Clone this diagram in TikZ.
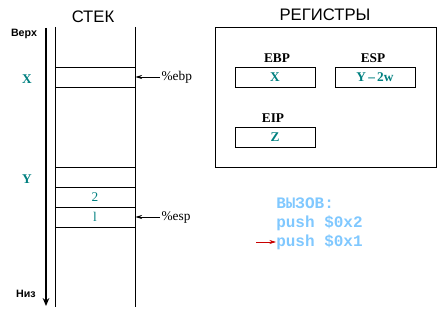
\documentclass[tikz,border=0pt]{standalone}
\usepackage{fontspec}
\setmainfont{Liberation Serif}
\setsansfont{Liberation Sans}
\setmonofont{Liberation Mono}
\usetikzlibrary{arrows.meta}
\definecolor{tealc}{RGB}{0,128,128}
\definecolor{lblue}{RGB}{128,200,255}
\definecolor{redc}{RGB}{200,0,0}
\tikzset{
  stackline/.style={line width=0.6pt},
  cell/.style={draw, line width=0.6pt, minimum width=60pt, minimum height=15pt, inner sep=0pt},
  regbox/.style={draw, line width=0.6pt, minimum width=60pt, minimum height=15pt, inner sep=0pt, text=tealc, font=\bfseries\normalsize},
  reglabel/.style={font=\bfseries\normalsize},
  sidelab/.style={text=tealc, font=\bfseries\normalsize},
  ptr/.style={-{Stealth[length=5pt,width=3pt]}, line width=0.5pt},
  code/.style={text=lblue, font=\ttfamily\bfseries\fontsize{12}{14}\selectfont, anchor=west, inner sep=0pt},
  title/.style={font=\sffamily\fontsize{12.5}{14}\selectfont},
}
\begin{document}
\begin{tikzpicture}[x=0.75pt,y=-0.75pt]
\useasboundingbox (0,0) rectangle (446,320);
% stack
\node[title] (stk) at (93,17) {СТЕК};
\coordinate (sl1) at (55,27); \coordinate (sl2) at (55,307);
\coordinate (sr1) at (135,27); \coordinate (sr2) at (135,307);
\draw[stackline] (sl1) -- (sl2);
\draw[stackline] (sr1) -- (sr2);
\node[cell] (cx) at (95,77) {};
\node[cell] (cy) at (95,177) {};
\node[cell, text=tealc, font=\normalsize] (c2) at (95,197) {2};
\node[cell, text=tealc, font=\normalsize] (c1) at (95,217) {l};
% thick arrow
\coordinate (at) at (46,28); \coordinate (ab) at (46,306);
\draw[line width=2pt, -{Stealth[length=6pt,width=5pt]}] (at) -- (ab);
\node[font=\sffamily\bfseries\footnotesize] (top) at (24,34) {Верх};
\node[font=\sffamily\bfseries\footnotesize] (bot) at (26,294) {Низ};
\node[sidelab] (lx) at (27,79) {X};
\node[sidelab] (ly) at (27,179) {Y};
% pointers
\node[font=\normalsize, anchor=west, inner sep=1pt] (ebp) at (160,77) {\%ebp};
\node[font=\normalsize, anchor=west, inner sep=1pt] (esp) at (160,217) {\%esp};
\draw[ptr] (ebp.west) -- (cx.east);
\draw[ptr] (esp.west) -- (c1.east);
% registers
\node[title] (regt) at (325,15) {РЕГИСТРЫ};
\node[draw, line width=0.6pt, minimum width=165.75pt, minimum height=105pt, inner sep=0pt] (regs) at (325.5,97) {};
\node[reglabel] (lebp) at (277,58) {EBP};
\node[regbox] (rebp) at (275,77) {X};
\node[reglabel] (lesp) at (373,58) {ESP};
\node[regbox] (resp) at (375,77) {Y\,--\,2w};
\node[reglabel] (leip) at (273,118) {EIP};
\node[regbox] (reip) at (275,137) {Z};
% call
\node[code] (call) at (276,203) {ВЫЗОВ:};
\node[code] (p2) at (276,223) {push \$0x2};
\node[code] (p1) at (276,242) {push \$0x1};
\coordinate (ra) at (256,242);
\draw[ptr, redc] (ra) -- (p1.west);
\end{tikzpicture}
\end{document}
